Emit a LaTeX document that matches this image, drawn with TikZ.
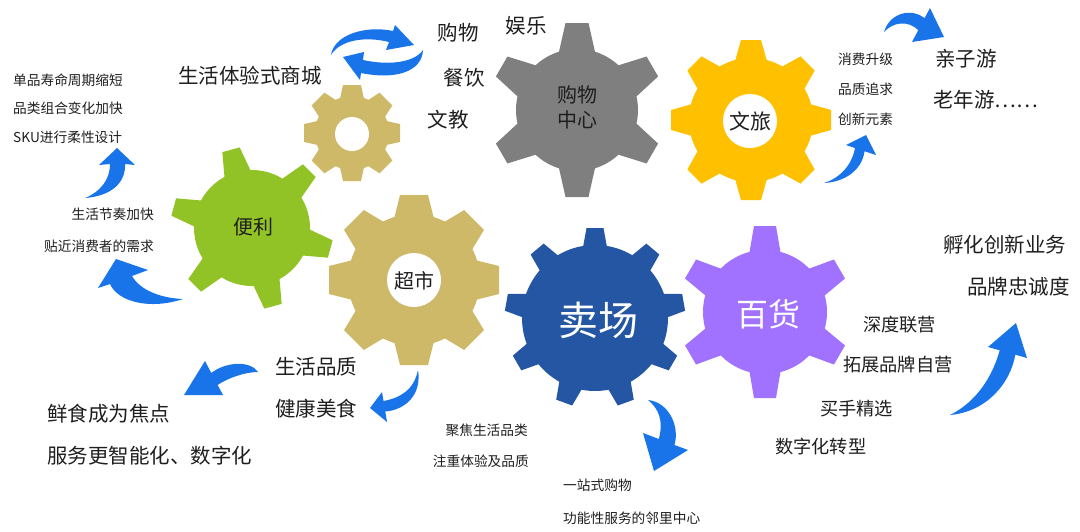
\documentclass[tikz,border=0pt]{standalone}
\usepackage{fontspec}
\setmainfont{Noto Sans CJK SC}
\usepackage{tikz}
\usepackage{xcolor}
\definecolor{geargray}{RGB}{127,127,127}
\definecolor{gearyellow}{RGB}{255,192,0}
\definecolor{geartan}{RGB}{206,185,104}
\definecolor{geargreen}{RGB}{146,195,38}
\definecolor{gearblue}{RGB}{37,86,164}
\definecolor{gearpurple}{RGB}{161,113,255}
\definecolor{arrowblue}{RGB}{24,116,232}
\definecolor{txtcol}{RGB}{30,30,30}

% centre, teeth, body radius, tip radius, half base, half tip, first angle, colour
\newcommand{\drawgear}[8]{%
	\fill[#8] #1 circle (#3pt);
	\foreach \k in {1,...,#2}
		\fill[#8, shift={#1}, rotate={#7+360/#2*(\k-1)}] (#3-5,-#5) -- (#4,-#6) -- (#4,#6) -- (#3-5,#5) -- cycle;
}

\begin{document}
\begin{tikzpicture}[x=1pt,y=-1pt]

		\tikzset{txtbig/.style = {inner sep=0pt, text=txtcol, font=\fontsize{20.5}{24}\selectfont}}
		\tikzset{txtmid/.style = {inner sep=0pt, text=txtcol, font=\fontsize{18.2}{22}\selectfont}}
		\tikzset{txtsmall/.style = {inner sep=0pt, text=txtcol, font=\fontsize{13.7}{16}\selectfont}}
		\tikzset{gearname/.style = {inner sep=0pt, align=center, text=txtcol, font=\fontsize{20}{25}\selectfont}}
		\tikzset{flow/.style = {fill=arrowblue}}
		\useasboundingbox (0,0) rectangle (1080,531);

		% gears
		\drawgear{(352,133)}{8}{37}{48}{12.5}{9}{0}{geartan}
		\fill[white] (352,134) circle (17pt);
		\drawgear{(252,228)}{6}{58}{81}{14}{9}{105}{geargreen}
		\drawgear{(577,110)}{6}{61}{87}{18.5}{11.5}{90}{geargray}
		\drawgear{(751,120)}{8}{62}{80}{16.5}{10}{0}{gearyellow}
		\fill[white] (750,121) circle (27pt);
		\drawgear{(414,280)}{8}{66}{85}{20}{14}{0}{geartan}
		\fill[white] (414,280) circle (27pt);
		\drawgear{(595,318)}{9}{73}{90}{12.5}{8.5}{90}{gearblue}
		\drawgear{(765,312)}{6}{62}{86}{16}{11}{90}{gearpurple}

		% gear names
		\node[gearname] (gouwu) at (577,107) {购物\\中心};
		\node[gearname] (bianli) at (253,227) {便利};
		\node[gearname] (chaoshi) at (414,281) {超市};
		\node[gearname, font=\fontsize{21}{25}\selectfont] (wenlv) at (750,121) {文旅};
		\node[gearname, text=white, font=\fontsize{40}{44}\selectfont] (maichang) at (598,320) {卖场};
		\node[gearname, text=white, font=\fontsize{32}{36}\selectfont] (baihuo) at (768,314) {百货};

		% texts left
		\node[txtbig, anchor=west] (tiyan) at (178,76) {生活体验式商城};
		\node[txtsmall, anchor=west] (danpin) at (13,80) {单品寿命周期缩短};
		\node[txtsmall, anchor=west] (pinlei) at (13,108) {品类组合变化加快};
		\node[txtsmall, anchor=west] (sku) at (13,137) {SKU进行柔性设计};
		\node[txtsmall, anchor=east] (jiezou) at (154,214) {生活节奏加快};
		\node[txtsmall, anchor=east] (tiejin) at (154,246) {贴近消费者的需求};
		\node[txtbig, anchor=west] (pinzhi) at (275,367) {生活品质};
		\node[txtbig, anchor=west] (meishi) at (275,409) {健康美食};
		\node[txtbig, anchor=west] (xianshi) at (47,414) {鲜食成为焦点};
		\node[txtbig, anchor=west] (fuwu) at (47,456) {服务更智能化、数字化};
		% texts top
		\node[txtbig] (gw) at (458,33) {购物};
		\node[txtbig] (yule) at (526,26) {娱乐};
		\node[txtbig] (canyin) at (464,78) {餐饮};
		\node[txtbig] (wenjiao) at (448,120) {文教};
		% texts right
		\node[txtsmall, anchor=west] (shengji) at (838,59) {消费升级};
		\node[txtsmall, anchor=west] (zhuiqiu) at (838,89) {品质追求};
		\node[txtsmall, anchor=west] (chuangxin) at (838,119) {创新元素};
		\node[txtbig, anchor=west] (qinzi) at (935,59) {亲子游};
		\node[txtbig, anchor=west] (laonian) at (933,100) {老年游……};
		\node[txtbig, anchor=west] (fuhua) at (943,245) {孵化创新业务};
		\node[txtbig, anchor=west] (zhongcheng) at (967,287) {品牌忠诚度};
		\node[txtmid, anchor=west] (lianying) at (863,325) {深度联营};
		\node[txtmid, anchor=west] (ziying) at (843,365) {拓展品牌自营};
		\node[txtmid, anchor=west] (maishou) at (820,409) {买手精选};
		\node[txtmid, anchor=west] (zhuanxing) at (775,447) {数字化转型};
		% texts bottom
		\node[txtsmall, anchor=east] (jujiao) at (528,430) {聚焦生活品类};
		\node[txtsmall, anchor=east] (zhuzhong) at (529,461) {注重体验及品质};
		\node[txtsmall, anchor=west] (yizhan) at (563,485) {一站式购物};
		\node[txtsmall, anchor=west] (linli) at (563,518) {功能性服务的邻里中心};

		% arrows
		\fill[flow] (85,198) .. controls (112,196) and (126,182) .. (125,164) -- (135,165) -- (117,148) -- (99,165) -- (110,164) .. controls (110,180) and (100,192) .. (85,198) -- cycle;
		\fill[flow] (183,299) .. controls (150,310) and (118,302) .. (110,284) -- (98,288) -- (116,259) -- (148,270) -- (132,276) .. controls (140,290) and (160,298) .. (183,299) -- cycle;
		\fill[flow] (331,55) .. controls (334,35) and (365,25) .. (393,31) -- (395,25) -- (414,45) -- (386,50) -- (389,42) .. controls (365,36) and (340,40) .. (331,55) -- cycle;
		\fill[flow] (423,50) .. controls (422,72) and (395,80) .. (361,73) -- (360,80) -- (343,57) -- (364,52) -- (363,60) .. controls (390,66) and (415,62) .. (423,50) -- cycle;
		\fill[flow] (884,32) .. controls (890,12) and (912,8) .. (924.6,18.2) -- (930,8) -- (944,37) -- (912,42) -- (918.3,30.1) .. controls (908,20) and (893,22) .. (884,32) -- cycle;
		\fill[flow] (824,183) .. controls (845,182) and (862,170) .. (864.6,151.2) -- (876,155) -- (866,135) -- (846,145) -- (855,148) .. controls (852,165) and (840,178) .. (824,183) -- cycle;
		\fill[flow] (258,372) .. controls (250,360) and (225,362) .. (211.3,373) -- (205,361) -- (184,395) -- (223,395) -- (217.6,385) .. controls (228,378) and (245,372) .. (258,372) -- cycle;
		\fill[flow] (418,370) .. controls (422,395) and (405,410) .. (385.3,411.5) -- (387,422) -- (370,408) -- (382,392) -- (383.5,401) .. controls (400,398) and (414,390) .. (418,370) -- cycle;
		\fill[flow] (648,400) .. controls (668,402) and (680,425) .. (674.5,445) -- (688,450) -- (654,471) -- (643,433) -- (658.8,439) .. controls (664,420) and (658,408) .. (648,400) -- cycle;
		\fill[flow] (950,415) .. controls (985,412) and (1010,385) .. (1015.3,354.7) -- (1027,358) -- (1016,323) -- (988,347) -- (999.7,350.3) .. controls (990,385) and (970,405) .. (950,415) -- cycle;

\end{tikzpicture}
\end{document}
